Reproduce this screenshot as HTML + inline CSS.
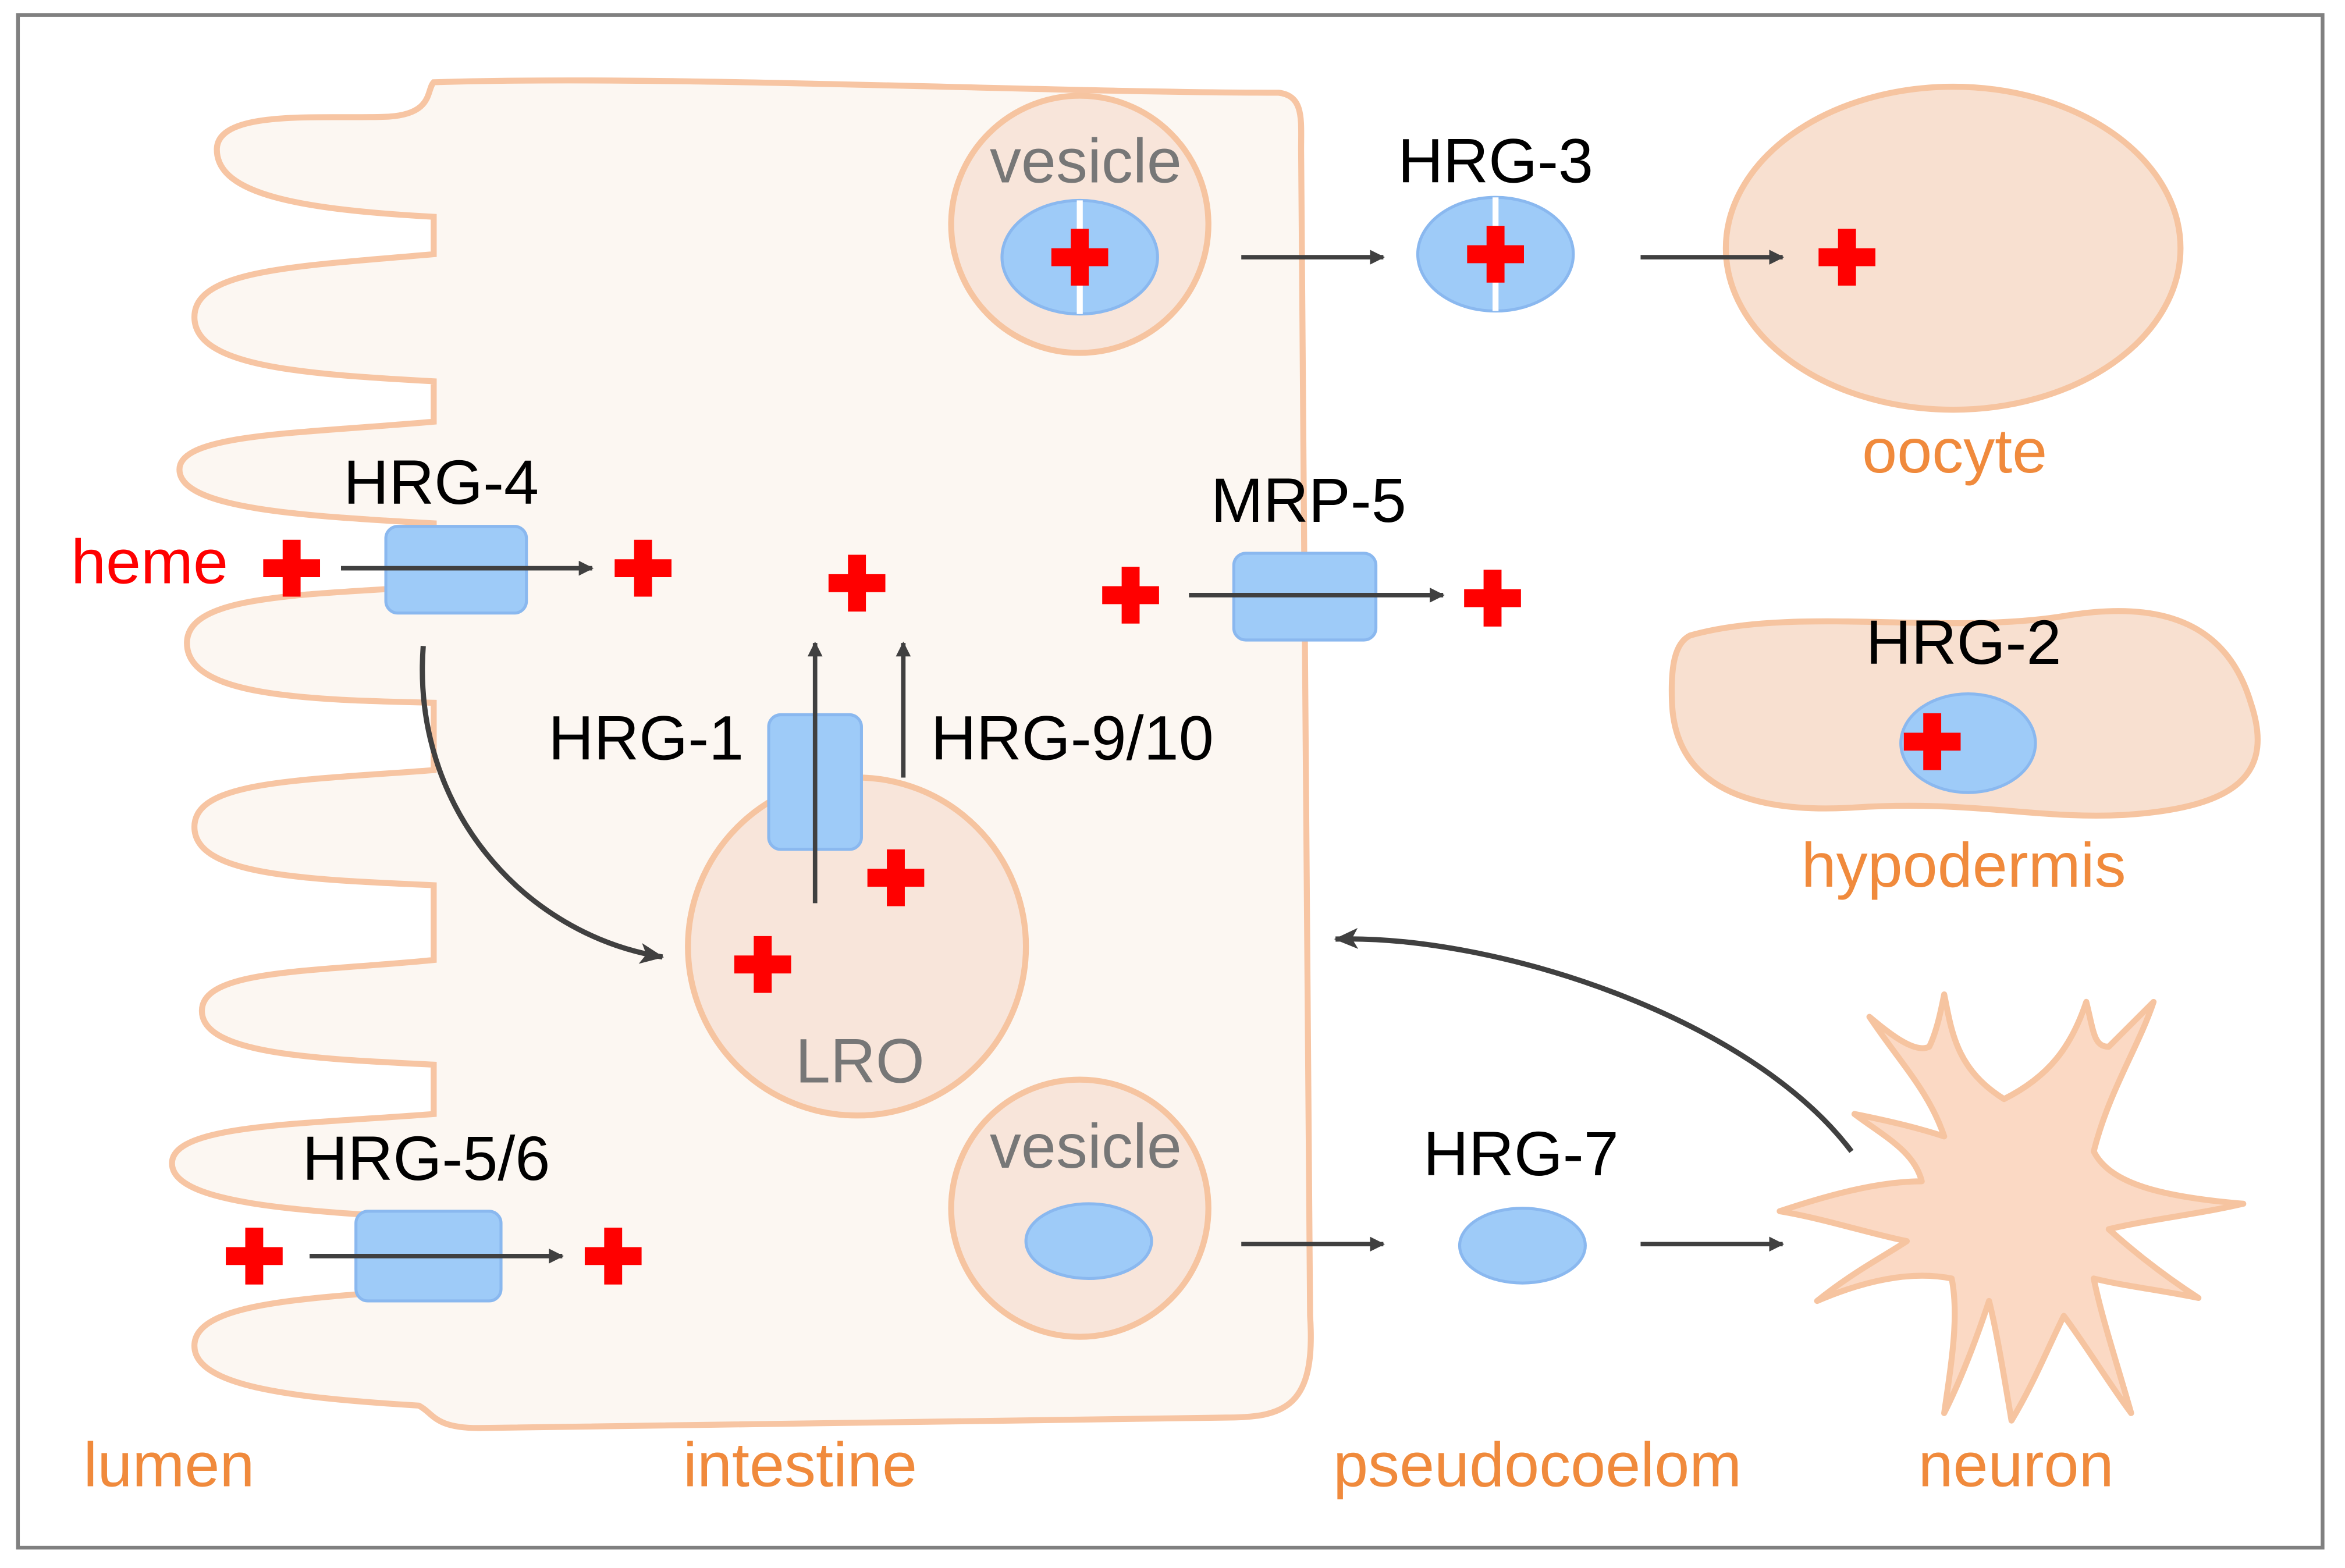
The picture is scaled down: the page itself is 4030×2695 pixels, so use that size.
<!DOCTYPE html>
<html><head><meta charset="utf-8"><style>
html,body{margin:0;padding:0;background:#fff;}
svg{display:block;}
text{font-family:"Liberation Sans",sans-serif;}
</style></head><body>
<svg width="4030" height="2695" viewBox="0 0 1568 1048.6" preserveAspectRatio="none" xmlns="http://www.w3.org/2000/svg">
<defs>
<marker id="ah" markerWidth="10" markerHeight="10" refX="9" refY="5" orient="auto" markerUnits="userSpaceOnUse">
<path d="M0,0 L10,5 L0,10 Z" fill="#404040"/></marker>
<marker id="ah2" markerWidth="16" markerHeight="14" refX="15" refY="7" orient="auto" markerUnits="userSpaceOnUse">
<path d="M0,0 L16,7 L0,14 L4,7 Z" fill="#404040"/></marker>
<path id="cr" d="M-6,-19 H6 V-6 H19 V6 H6 V19 H-6 V6 H-19 V-6 H-6 Z" fill="#f00"/>
</defs>
<rect x="12" y="10" width="1541" height="1025" fill="#fff" stroke="#808080" stroke-width="2.5"/>

<path d="M290,55 C450,50 700,62 855,62 C872,64 870,80 870,100 L876,880 C880,940 860,948 820,948 L320,955 C290,955 290,945 280,940
C200,935 130,928 130,900 C130,872 200,868 290,862
L290,815 C200,810 115,805 115,778 C115,752 200,752 290,745
L290,712 C210,708 135,705 135,676 C135,648 210,650 290,642
L290,592 C200,588 130,585 130,553 C130,522 200,522 290,515
L290,470 C200,468 125,465 125,430 C125,398 200,398 290,392
L290,350 C200,345 120,340 120,314 C120,290 200,290 290,282
L290,255 C200,250 130,245 130,212 C130,180 200,178 290,170
L290,145 C200,140 145,130 145,100 C145,72 220,80 260,78 C290,76 285,60 290,55 Z"
fill="#fcf7f2" stroke="#f7c5a3" stroke-width="4"/>

<circle cx="722" cy="150" r="86" fill="#f8e5da" stroke="#f6c4a0" stroke-width="4"/>
<ellipse cx="722" cy="172" rx="52" ry="38" fill="#9ecbf8" stroke="#8ab8ef" stroke-width="2"/>
<line x1="722" y1="134" x2="722" y2="210" stroke="#fff" stroke-width="4"/>
<use href="#cr" x="722" y="172"/>
<text x="726" y="122" font-size="42" fill="#777" text-anchor="middle">vesicle</text>

<ellipse cx="1306" cy="166" rx="152" ry="108" fill="#f8e0d0" stroke="#f6c4a0" stroke-width="4"/>
<line x1="830" y1="172" x2="925" y2="172" stroke="#404040" stroke-width="3" marker-end="url(#ah)"/>
<ellipse cx="1000" cy="170" rx="52" ry="38" fill="#9ecbf8" stroke="#8ab8ef" stroke-width="2"/>
<line x1="1000" y1="132" x2="1000" y2="208" stroke="#fff" stroke-width="4"/>
<use href="#cr" x="1000" y="170"/>
<text x="1000" y="122" font-size="42" fill="#000" text-anchor="middle">HRG-3</text>
<line x1="1097" y1="172" x2="1192" y2="172" stroke="#404040" stroke-width="3" marker-end="url(#ah)"/>
<use href="#cr" x="1235" y="172"/>
<text x="1307" y="316" font-size="42" fill="#f08a3c" text-anchor="middle">oocyte</text>

<text x="295" y="337" font-size="42" fill="#000" text-anchor="middle">HRG-4</text>
<text x="100" y="390" font-size="42" fill="#f00" text-anchor="middle">heme</text>
<use href="#cr" x="195" y="380"/>
<rect x="258" y="352" width="94" height="58" rx="8" fill="#9ecbf8" stroke="#8ab8ef" stroke-width="2"/>
<line x1="228" y1="380" x2="396" y2="380" stroke="#404040" stroke-width="3" marker-end="url(#ah)"/>
<use href="#cr" x="430" y="380"/>
<use href="#cr" x="573" y="390"/>

<text x="875" y="349" font-size="42" fill="#000" text-anchor="middle">MRP-5</text>
<use href="#cr" x="756" y="398"/>
<rect x="825" y="370" width="95" height="58" rx="8" fill="#9ecbf8" stroke="#8ab8ef" stroke-width="2"/>
<line x1="795" y1="398" x2="965" y2="398" stroke="#404040" stroke-width="3" marker-end="url(#ah)"/>
<use href="#cr" x="998" y="400"/>

<path d="M283,432 C275,540 350,625 443,640" fill="none" stroke="#404040" stroke-width="3.5" marker-end="url(#ah2)"/>

<circle cx="573" cy="633" r="113" fill="#f8e5da" stroke="#f6c4a0" stroke-width="4"/>
<text x="575" y="724" font-size="42" fill="#777" text-anchor="middle">LRO</text>
<rect x="514" y="478" width="62" height="90" rx="8" fill="#9ecbf8" stroke="#8ab8ef" stroke-width="2"/>
<text x="432" y="508" font-size="42" fill="#000" text-anchor="middle">HRG-1</text>
<line x1="545" y1="604" x2="545" y2="430" stroke="#404040" stroke-width="3" marker-end="url(#ah)"/>
<line x1="604" y1="520" x2="604" y2="430" stroke="#404040" stroke-width="3" marker-end="url(#ah)"/>
<text x="717" y="508" font-size="42" fill="#000" text-anchor="middle">HRG-9/10</text>
<use href="#cr" x="599" y="587"/>
<use href="#cr" x="510" y="645"/>

<path d="M1130,425 C1200,405 1300,425 1380,412 C1450,400 1490,420 1505,470 C1520,515 1500,540 1420,545 C1360,548 1320,535 1240,540 C1160,545 1120,520 1118,470 C1117,445 1120,430 1130,425 Z" fill="#f8e0d0" stroke="#f6c4a0" stroke-width="4"/>
<ellipse cx="1316" cy="497" rx="45" ry="33" fill="#9ecbf8" stroke="#8ab8ef" stroke-width="2"/>
<use href="#cr" x="1292" y="496"/>
<text x="1313" y="444" font-size="42" fill="#000" text-anchor="middle">HRG-2</text>
<text x="1313" y="593" font-size="42" fill="#f08a3c" text-anchor="middle">hypodermis</text>

<circle cx="722" cy="808" r="86" fill="#f8e5da" stroke="#f6c4a0" stroke-width="4"/>
<ellipse cx="728" cy="830" rx="42" ry="25" fill="#9ecbf8" stroke="#8ab8ef" stroke-width="2"/>
<text x="726" y="781" font-size="42" fill="#777" text-anchor="middle">vesicle</text>
<line x1="830" y1="832" x2="925" y2="832" stroke="#404040" stroke-width="3" marker-end="url(#ah)"/>
<ellipse cx="1018" cy="833" rx="42" ry="25" fill="#9ecbf8" stroke="#8ab8ef" stroke-width="2"/>
<text x="1017" y="786" font-size="42" fill="#000" text-anchor="middle">HRG-7</text>
<line x1="1097" y1="832" x2="1192" y2="832" stroke="#404040" stroke-width="3" marker-end="url(#ah)"/>

<path d="M1300,760 C1290,730 1270,710 1250,680 C1262,690 1280,705 1290,700 C1295,690 1298,675 1300,665 C1305,690 1308,715 1340,735
C1370,720 1385,700 1395,670 C1400,690 1400,700 1410,700 C1420,690 1430,680 1440,670 C1430,700 1410,730 1400,770
C1410,790 1440,800 1500,805 C1470,812 1440,815 1410,822 C1430,840 1450,855 1470,868 C1440,862 1420,860 1400,855
C1405,880 1415,910 1425,945 C1410,925 1395,900 1380,880 C1370,900 1360,925 1345,950 C1340,920 1335,890 1330,870
C1320,900 1310,925 1300,945 C1305,910 1310,880 1305,855 C1280,850 1250,855 1215,870 C1240,850 1260,840 1275,830
C1250,825 1220,815 1190,810 C1220,800 1255,790 1285,790 C1280,770 1260,760 1240,745 C1265,750 1285,755 1300,760 Z"
fill="#fbd9c4" stroke="#f6c4a0" stroke-width="4" stroke-linejoin="round"/>
<path d="M1238,770 C1170,680 1000,625 893,628" fill="none" stroke="#404040" stroke-width="3.5" marker-end="url(#ah2)"/>

<text x="285" y="789" font-size="42" fill="#000" text-anchor="middle">HRG-5/6</text>
<use href="#cr" x="170" y="840"/>
<rect x="238" y="810" width="97" height="60" rx="8" fill="#9ecbf8" stroke="#8ab8ef" stroke-width="2"/>
<line x1="207" y1="840" x2="376" y2="840" stroke="#404040" stroke-width="3" marker-end="url(#ah)"/>
<use href="#cr" x="410" y="840"/>

<text x="113" y="994" font-size="42" fill="#f08a3c" text-anchor="middle">lumen</text>
<text x="535" y="994" font-size="42" fill="#f08a3c" text-anchor="middle">intestine</text>
<text x="1028" y="994" font-size="42" fill="#f08a3c" text-anchor="middle">pseudocoelom</text>
<text x="1348" y="994" font-size="42" fill="#f08a3c" text-anchor="middle">neuron</text>
</svg>
</body></html>
